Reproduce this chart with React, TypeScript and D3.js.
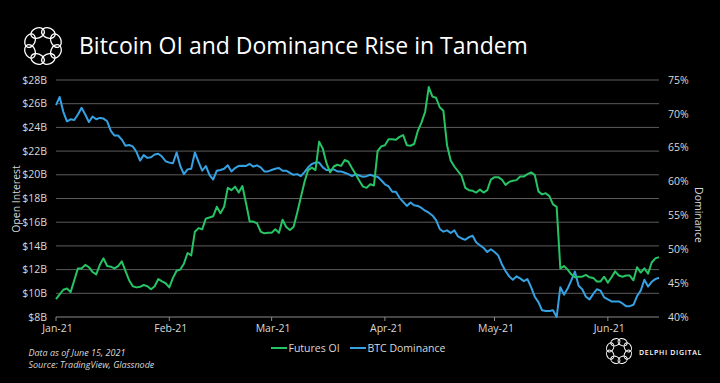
import React from "react";
import * as d3 from "d3";

// ---- data ----
const startDate = new Date(2021, 0, 1);
const endDate = new Date(2021, 5, 15);

// Futures open interest, $B, daily from Jan 1 2021
const oiValues = [
  9.5, 9.9, 10.3, 10.4, 10.1, 11.1, 12.1, 12.1, 12.4, 12.2,
  11.8, 11.6, 12.4, 12.95, 12.3, 12.25, 12.1, 12.3, 12.7, 11.9,
  11.1, 10.6, 10.5, 10.55, 10.7, 10.6, 10.35, 10.6, 11.2, 11.0,
  10.85, 10.5, 11.3, 11.9, 12.0, 12.5, 13.4, 13.2, 15.2, 15.5,
  15.4, 16.3, 16.4, 16.5, 17.3, 16.75, 17.3, 18.9, 18.7, 19.0,
  18.5, 19.05, 17.6, 16.05, 16.05, 15.9, 15.2, 15.06, 15.1, 15.1,
  15.4, 15.1, 16.2, 15.6, 15.35, 15.6, 16.8, 18.1, 19.4, 20.4,
  20.6, 20.4, 22.8, 22.2, 21.0, 20.2, 20.7, 20.85, 20.75, 21.25,
  21.1, 20.55, 20.05, 19.5, 19.0, 18.9, 19.2, 19.1, 22.0, 22.4,
  22.5, 23.0, 23.0, 22.95, 23.2, 23.35, 22.5, 22.45, 22.6, 23.7,
  24.4, 25.3, 27.4, 26.6, 26.5, 25.7, 25.4, 22.5, 21.2, 20.7,
  20.3, 19.9, 18.9, 18.7, 18.65, 18.5, 18.75, 18.5, 18.7, 19.6,
  19.8, 19.8, 19.6, 19.15, 19.4, 19.5, 19.55, 19.85, 19.85, 20.05,
  20.2, 20.0, 18.6, 18.35, 18.45, 18.2, 17.5, 17.3, 12.1, 12.3,
  12.0, 11.6, 11.35, 11.4, 11.4, 11.55, 11.35, 11.3, 11.0, 11.0,
  11.4, 10.9, 11.35, 11.85, 11.5, 11.4, 11.5, 11.5, 11.1, 12.2,
  11.75, 12.1, 11.65, 12.6, 12.95, 13.05,
];

// BTC dominance, %, daily from Jan 1 2021
const domValues = [
  71.3, 72.5, 70.3, 68.9, 69.2, 69.1, 69.9, 70.9, 69.9, 68.8,
  69.6, 69.2, 69.4, 69.3, 68.9, 67.5, 66.8, 66.8, 66.2, 65.3,
  65.4, 65.2, 64.4, 63.1, 63.9, 63.5, 63.6, 64.0, 64.1, 63.7,
  63.0, 62.8, 62.7, 64.3, 62.3, 61.1, 61.8, 61.9, 64.3, 62.9,
  61.6, 62.3, 61.0, 60.3, 61.6, 61.7, 61.9, 62.4, 61.5, 62.0,
  62.3, 62.35, 62.3, 62.6, 62.2, 62.4, 62.1, 61.5, 61.5, 61.7,
  61.9, 62.0, 61.6, 61.6, 61.3, 61.0, 61.1, 60.8, 61.4, 62.1,
  62.6, 62.8, 62.8, 62.1, 61.7, 61.7, 61.8, 61.5, 61.5, 61.3,
  61.1, 60.8, 61.1, 60.9, 60.7, 60.8, 61.0, 60.8, 60.7, 60.2,
  59.6, 59.3, 58.5, 58.5, 57.6, 57.0, 56.4, 56.9, 56.5, 56.4,
  56.1, 55.7, 55.4, 55.0, 54.3, 53.0, 52.6, 52.8, 52.4, 52.8,
  51.9, 51.6, 51.4, 51.8, 52.0, 51.0, 50.6, 50.2, 49.6, 50.0,
  49.6, 49.1, 47.8, 46.8, 46.0, 45.5, 46.0, 45.7, 45.3, 45.6,
  44.4, 43.0, 42.2, 41.0, 40.9, 40.9, 41.0, 40.0, 44.4, 43.3,
  44.2, 45.4, 46.7, 44.6, 44.1, 43.0, 42.6, 43.4, 44.1, 43.9,
  42.9, 42.6, 42.3, 42.3, 42.3, 42.0, 41.6, 41.6, 41.8, 43.1,
  43.9, 45.5, 44.5, 45.2, 45.6, 45.8,
];

const oiTicks = [8, 10, 12, 14, 16, 18, 20, 22, 24, 26, 28];
const domTicks = [40, 45, 50, 55, 60, 65, 70, 75];
const monthTicks = [
  new Date(2021, 0, 1), new Date(2021, 1, 1), new Date(2021, 2, 1),
  new Date(2021, 3, 1), new Date(2021, 4, 1), new Date(2021, 5, 1),
];
const monthLabels = ["Jan-21", "Feb-21", "Mar-21", "Apr-21", "May-21", "Jun-21"];
const seriesNames = ["Futures OI", "BTC Dominance"];

const GREEN = "#26c464";
const BLUE = "#36a2e3";
const FONT = "'Open Sans', 'DejaVu Sans', sans-serif";

function Logo({ cx, cy, r, sw }: { cx: number; cy: number; r: number; sw: number }) {
  const n = 8;
  const items = d3.range(n).map((i) => {
    const a = (i / n) * 360 + 22.5;
    return (
      <ellipse
        key={i}
        cx={0}
        cy={-r}
        rx={r * 0.5}
        ry={r * 0.36}
        transform={`rotate(${a})`}
        fill="none"
        stroke="#fff"
        strokeWidth={sw}
      />
    );
  });
  return <g transform={`translate(${cx},${cy})`}>{items}</g>;
}

export default function App() {
  const W = 720;
  const H = 383;
  const x = d3.scaleTime().domain([startDate, endDate]).range([56, 659]);
  const yL = d3.scaleLinear().domain([8, 28]).range([317, 80]);
  const yR = d3.scaleLinear().domain([40, 75]).range([317, 80]);
  const dates = d3.timeDay.range(startDate, d3.timeDay.offset(endDate, 1));

  const oiLine = d3
    .line<number>()
    .x((_, i) => x(dates[i]))
    .y((d) => yL(d));
  const domLine = d3
    .line<number>()
    .x((_, i) => x(dates[i]))
    .y((d) => yR(d));

  return (
    <svg
      width={W}
      height={H}
      style={{ position: "absolute", left: 0, top: 0, background: "#000" }}
      fontFamily={FONT}
    >
      <rect x={0} y={0} width={W} height={H} fill="#000" />
      <Logo cx={43} cy={46} r={14} sw={1.3} />
      <text x={79} y={54} fill="#fff" fontSize={23} fontFamily={FONT}>
        Bitcoin OI and Dominance Rise in Tandem
      </text>

      {/* grid */}
      {oiTicks.slice(1).map((t) => (
        <line key={t} x1={56} x2={659} y1={yL(t)} y2={yL(t)} stroke="#5c5c5c" strokeWidth={1} />
      ))}
      <line x1={56} x2={659} y1={yL(8)} y2={yL(8)} stroke="#8a8a8a" strokeWidth={1} />
      {monthTicks.map((m, i) => (
        <line key={i} x1={x(m)} x2={x(m)} y1={yL(8)} y2={yL(8) + 4} stroke="#8a8a8a" strokeWidth={1} />
      ))}

      {/* left axis labels */}
      {oiTicks.map((t) => (
        <text key={t} x={47} y={yL(t)} dy="0.35em" textAnchor="end" fill="#d9d9d9" fontSize={10.5}>
          {`$${t}B`}
        </text>
      ))}
      {/* right axis labels */}
      {domTicks.map((t) => (
        <text key={t} x={668} y={yR(t)} dy="0.35em" textAnchor="start" fill="#d9d9d9" fontSize={10.5}>
          {`${t}%`}
        </text>
      ))}
      {/* x labels */}
      {monthTicks.map((m, i) => (
        <text key={i} x={x(m) + 1.5} y={332} textAnchor="middle" fill="#d9d9d9" fontSize={10.5}>
          {monthLabels[i]}
        </text>
      ))}

      <text
        transform={`translate(20,199) rotate(-90)`}
        textAnchor="middle"
        fill="#d9d9d9"
        fontSize={10.5}
      >
        Open Interest
      </text>
      <text
        transform={`translate(695,215) rotate(90)`}
        textAnchor="middle"
        fill="#d9d9d9"
        fontSize={10.5}
      >
        Dominance
      </text>

      {/* series */}
      <path d={domLine(domValues) || ""} fill="none" stroke={BLUE} strokeWidth={2} strokeLinejoin="round" />
      <path d={oiLine(oiValues) || ""} fill="none" stroke={GREEN} strokeWidth={2} strokeLinejoin="round" />

      {/* legend */}
      <line x1={271} x2={287} y1={348} y2={348} stroke={GREEN} strokeWidth={2} />
      <text x={288.5} y={348} dy="0.35em" fill="#d9d9d9" fontSize={10.5}>
        {seriesNames[0]}
      </text>
      <line x1={350} x2={366} y1={348} y2={348} stroke={BLUE} strokeWidth={2} />
      <text x={367.5} y={348} dy="0.35em" fill="#d9d9d9" fontSize={10.5}>
        {seriesNames[1]}
      </text>

      {/* footnotes */}
      <text x={28.5} y={356} fill="#d9d9d9" fontSize={9} fontStyle="italic">
        Data as of June 15, 2021
      </text>
      <text x={28.5} y={368} fill="#d9d9d9" fontSize={9} fontStyle="italic">
        Source: TradingView, Glassnode
      </text>

      {/* bottom-right brand */}
      <Logo cx={619} cy={351} r={9.5} sw={1} />
      <text x={639} y={355} fill="#fff" fontSize={7} letterSpacing={0.7} fontWeight={600}>
        DELPHI DIGITAL
      </text>
    </svg>
  );
}
